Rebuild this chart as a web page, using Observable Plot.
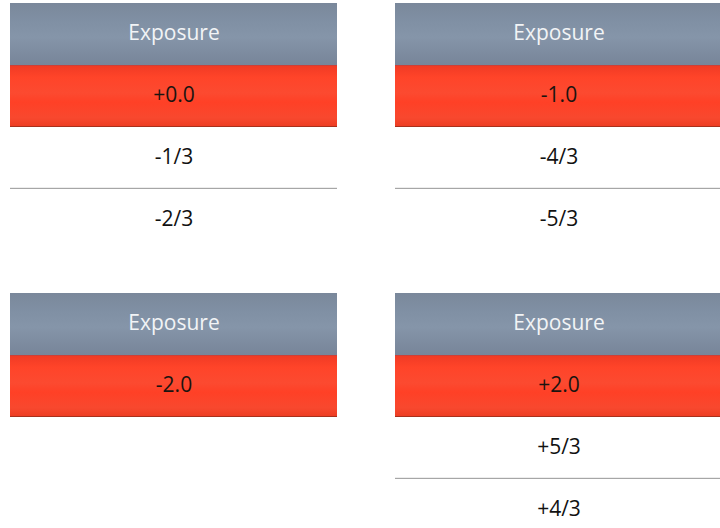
<!DOCTYPE html>
<html>
<head>
<meta charset="utf-8">
<script src="https://cdn.jsdelivr.net/npm/d3@7"></script>
<script src="https://cdn.jsdelivr.net/npm/@observablehq/plot@0.6"></script>
<style>
  html, body { margin: 0; padding: 0; background: #fff; overflow: hidden; width: 720px; height: 528px; }
  #chart { width: 720px; height: 528px; overflow: hidden; }
  #chart svg { display: block; max-width: none !important; height: 542px !important; width: 723px !important; }
</style>
</head>
<body>
<div id="chart"></div>
<script>
// ---- data ----
const headerLabel = "Exposure";
const panelIds = ["A", "B", "C", "D"];
const panelCol = [0, 1, 0, 1];
const panelRow = [0, 0, 1, 1];
const selectedValues = ["+0.0", "-1.0", "-2.0", "+2.0"];
const optionValues = [["-1/3", "-2/3"], ["-4/3", "-5/3"], [], ["+5/3", "+4/3"]];
const slots = ["header", "selected", "opt1", "opt2"];

// ---- table built from the arrays ----
const rows = [];
panelIds.forEach((id, i) => {
  rows.push({panel: id, col: panelCol[i], row: panelRow[i], slot: "header", label: headerLabel, kind: "header"});
  rows.push({panel: id, col: panelCol[i], row: panelRow[i], slot: "selected", label: selectedValues[i], kind: "selected"});
  optionValues[i].forEach((v, j) => {
    rows.push({panel: id, col: panelCol[i], row: panelRow[i], slot: slots[2 + j], label: v, kind: "option",
               sep: j < optionValues[i].length - 1});
  });
});

const headers = rows.filter(d => d.kind === "header");
const sels = rows.filter(d => d.kind === "selected");
const opts = rows.filter(d => d.kind === "option");
const seps = opts.filter(d => d.sep);

const font = "'Open Sans', 'Noto Sans', sans-serif";

const chart = Plot.plot({
  width: 723,
  height: 542,
  marginTop: 2,
  marginLeft: 9,
  marginRight: 0,
  marginBottom: 0,
  style: {background: "#fff", fontFamily: font, maxWidth: "none"},
  fx: {domain: [0, 1], paddingInner: 0.150, paddingOuter: 0, axis: null},
  fy: {domain: [0, 1], paddingInner: 0.141, paddingOuter: 0, axis: null},
  y: {domain: slots, padding: 0, axis: null},
  marks: [
    Plot.cell(headers, {fx: "col", fy: "row", y: "slot", fill: "url(#hdrGrad)"}),
    Plot.cell(sels, {fx: "col", fy: "row", y: "slot", fill: "url(#redGrad)"}),
    Plot.cell(sels, {fx: "col", fy: "row", y: "slot", fill: "#a8301c", insetTop: 61}),
    Plot.cell(sels, {fx: "col", fy: "row", y: "slot", fill: "#9a4a55", fillOpacity: 0.6, insetBottom: 61.3}),
    Plot.cell(seps, {fx: "col", fy: "row", y: "slot", fill: "#a6a6a6", insetTop: 60.8}),
    Plot.text(headers, {fx: "col", fy: "row", y: "slot", text: "label", fill: "#f2f4f6", fontSize: 21, dy: -1, fontFamily: font}),
    Plot.text(sels, {fx: "col", fy: "row", y: "slot", text: "label", fill: "#1a1410", fontSize: 21, dy: -1, fontFamily: font}),
    Plot.text(opts, {fx: "col", fy: "row", y: "slot", text: "label", fill: "#111", fontSize: 21, dy: -1, fontFamily: font})
  ]
});

// gradients
const svg = d3.select(chart);
const defs = svg.insert("defs", ":first-child");
const hg = defs.append("linearGradient").attr("id", "hdrGrad").attr("x1", 0).attr("y1", 0).attr("x2", 0).attr("y2", 1);
[[0, "#7a889b"], [0.3, "#8090a4"], [0.55, "#8595a9"], [0.85, "#7c8a9e"], [1, "#77859a"]]
  .forEach(([o, c]) => hg.append("stop").attr("offset", o).attr("stop-color", c));
const rg = defs.append("linearGradient").attr("id", "redGrad").attr("x1", 0).attr("y1", 0).attr("x2", 0).attr("y2", 1);
[[0, "#f03a24"], [0.2, "#ff4429"], [0.45, "#fc4a30"], [0.6, "#ff4026"], [0.85, "#f8482e"], [1, "#ec3c22"]]
  .forEach(([o, c]) => rg.append("stop").attr("offset", o).attr("stop-color", c));

document.getElementById("chart").appendChild(chart);
</script>
</body>
</html>
